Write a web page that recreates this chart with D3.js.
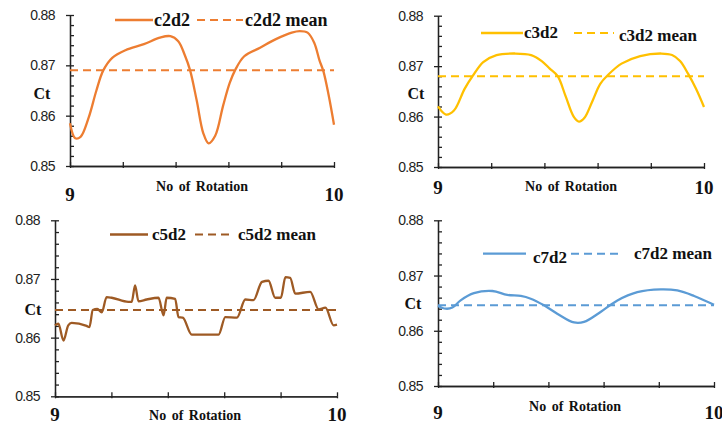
<!DOCTYPE html>
<html>
<head>
<meta charset="utf-8">
<script src="https://cdn.jsdelivr.net/npm/d3@7"></script>
<style>
  html, body { margin: 0; padding: 0; background: #fff; }
  svg { display: block; }
  .tick text { font-family: "Liberation Sans", Arial, sans-serif; font-size: 14px; fill: #222; letter-spacing: -0.6px; }
  .serif { font-family: "Liberation Serif", "Times New Roman", serif; font-weight: bold; fill: #111; }
</style>
</head>
<body>
<svg id="chart" width="722" height="425"></svg>
<script>
// ---- data ----
var yTicks = [0.85, 0.86, 0.87, 0.88];
var yMinor = [0.852, 0.854, 0.856, 0.858, 0.862, 0.864, 0.866, 0.868, 0.872, 0.874, 0.876, 0.878];
var xTicks = [9, 9.2, 9.4, 9.6, 9.8, 10];
var xLabels = [9, 10];

var c2d2Rot = [9, 9.02, 9.04, 9.07, 9.10, 9.126, 9.16, 9.21, 9.28, 9.34, 9.38, 9.41, 9.435, 9.455, 9.48, 9.505, 9.525, 9.55, 9.58, 9.605, 9.625, 9.66, 9.72, 9.78, 9.84, 9.87, 9.90, 9.925, 9.945, 9.96, 9.98, 10];
var c2d2Ct = [0.8585, 0.8555, 0.8558, 0.8595, 0.8650, 0.8690, 0.8715, 0.8730, 0.8742, 0.8755, 0.8758, 0.8748, 0.8720, 0.8690, 0.8630, 0.8565, 0.8545, 0.8560, 0.8620, 0.8665, 0.8690, 0.8718, 0.8735, 0.8752, 0.8765, 0.8768, 0.8765, 0.8745, 0.8710, 0.8688, 0.8640, 0.8582];
var c2d2Mean = 0.8690;

var c3d2Rot = [9, 9.03, 9.06, 9.10, 9.13, 9.17, 9.22, 9.29, 9.35, 9.39, 9.42, 9.45, 9.48, 9.51, 9.53, 9.55, 9.58, 9.61, 9.64, 9.69, 9.76, 9.84, 9.88, 9.91, 9.94, 9.97, 10];
var c3d2Ct = [0.8620, 0.8604, 0.8612, 0.8655, 0.8680, 0.8708, 0.8722, 0.8725, 0.8722, 0.8710, 0.8695, 0.8680, 0.8640, 0.8600, 0.8590, 0.8597, 0.8630, 0.8665, 0.8683, 0.8705, 0.8720, 0.8725, 0.8722, 0.8710, 0.8685, 0.8655, 0.8619];
var c3d2Mean = 0.8680;

var c5d2Rot = [9, 9.012, 9.030, 9.047, 9.059, 9.112, 9.122, 9.134, 9.150, 9.166, 9.183, 9.201, 9.260, 9.272, 9.284, 9.296, 9.325, 9.367, 9.385, 9.396, 9.426, 9.438, 9.453, 9.485, 9.580, 9.604, 9.645, 9.675, 9.704, 9.734, 9.757, 9.781, 9.801, 9.817, 9.834, 9.852, 9.905, 9.935, 9.959, 9.988, 10];
var c5d2Ct = [0.8621, 0.8624, 0.8595, 0.8621, 0.8625, 0.8620, 0.8618, 0.8647, 0.8649, 0.8643, 0.8669, 0.8668, 0.8661, 0.8661, 0.8689, 0.8662, 0.8665, 0.8668, 0.8638, 0.8668, 0.8666, 0.8635, 0.8634, 0.8605, 0.8605, 0.8635, 0.8634, 0.8665, 0.8664, 0.8695, 0.8697, 0.8668, 0.8668, 0.8703, 0.8702, 0.8675, 0.8678, 0.8648, 0.8651, 0.8621, 0.8622];
var c5d2Mean = 0.8647;

var c7d2Rot = [9, 9.028, 9.052, 9.082, 9.130, 9.197, 9.251, 9.300, 9.336, 9.384, 9.432, 9.493, 9.529, 9.589, 9.650, 9.722, 9.807, 9.867, 9.928, 10];
var c7d2Ct = [0.8645, 0.8640, 0.8642, 0.8655, 0.8668, 0.8672, 0.8665, 0.8663, 0.8658, 0.8646, 0.8631, 0.8615, 0.8616, 0.8634, 0.8655, 0.8670, 0.8675, 0.8673, 0.8663, 0.8647];
var c7d2Mean = 0.8646;

// ---- panel layout ----
var panels = [
  { name: 'c2d2', rot: c2d2Rot, ct: c2d2Ct, mean: c2d2Mean, color: '#ED7D31', curve: d3.curveCatmullRom,
    x0: 70, x1: 334, yTop: 15, yBot: 166, ctX: 42, ctY: 99, numY: 201, axTitle: { x: 202, y: 191 },
    leg: { l1: [115, 153], y: 20, t1: 154, l2: [197, 243], t2: 245, ty1: 26, ty2: 26, fs: 18 } },
  { name: 'c3d2', rot: c3d2Rot, ct: c3d2Ct, mean: c3d2Mean, color: '#FFC000', curve: d3.curveCatmullRom,
    x0: 438, x1: 704, yTop: 15.7, yBot: 167, ctX: 416, ctY: 99, numY: 194, axTitle: { x: 571, y: 191 },
    leg: { l1: [481, 523], y: 33, t1: 524, l2: [574, 614], t2: 619, ty1: 38, ty2: 41, fs: 17 } },
  { name: 'c5d2', rot: c5d2Rot, ct: c5d2Ct, mean: c5d2Mean, color: '#9E5A24', curve: d3.curveMonotoneX,
    x0: 55, x1: 337, yTop: 220.3, yBot: 396.3, ctX: 33, ctY: 315, numY: 421, axTitle: { x: 195, y: 420 },
    leg: { l1: [110, 148], y: 234.5, t1: 152, l2: [195, 233], t2: 238, ty1: 240, ty2: 240, fs: 17 } },
  { name: 'c7d2', rot: c7d2Rot, ct: c7d2Ct, mean: c7d2Mean, color: '#5B9BD5', curve: d3.curveCatmullRom,
    x0: 438, x1: 714, yTop: 220.3, yBot: 386, ctX: 413, ctY: 309, numY: 419, axTitle: { x: 575, y: 411 },
    leg: { l1: [483, 526], y: 253.7, t1: 533, l2: [571, 618], t2: 634, ty1: 263, ty2: 259, fs: 17 } }
];

var svg = d3.select('#chart');

panels.forEach(function (p) {
  var x = d3.scaleLinear().domain([9, 10]).range([p.x0, p.x1]);
  var y = d3.scaleLinear().domain([0.85, 0.88]).range([p.yBot, p.yTop]);
  var g = svg.append('g');

  // y axis: labels + outside major ticks
  var ya = g.append('g').attr('transform', 'translate(' + p.x0 + ',0)')
    .call(d3.axisLeft(y).tickValues(yTicks).tickSize(4).tickSizeOuter(0).tickPadding(11)
      .tickFormat(function (d) { return d3.format('.2f')(d); }));
  // inside ticks (major + minor)
  g.append('g').attr('transform', 'translate(' + p.x0 + ',0)')
    .call(d3.axisRight(y).tickValues(yTicks.concat(yMinor)).tickSize(4).tickSizeOuter(0).tickFormat(''));

  // x axis
  g.append('g').attr('transform', 'translate(0,' + p.yBot + ')')
    .call(d3.axisBottom(x).tickValues(xTicks).tickSize(2).tickSizeOuter(0).tickFormat(''));
  g.append('g').attr('transform', 'translate(0,' + p.yBot + ')')
    .call(d3.axisTop(x).tickValues(xTicks).tickSize(4).tickSizeOuter(0).tickFormat(''));

  g.selectAll('.domain, .tick line').attr('stroke', '#222').attr('stroke-width', 1.3);

  g.selectAll('.xnum').data(xLabels).enter().append('text')
    .attr('class', 'serif').attr('x', function (d) { return x(d); }).attr('y', p.numY)
    .attr('text-anchor', 'middle').style('font-size', '19px').text(function (d) { return d; });

  g.append('text').attr('class', 'serif').attr('x', p.axTitle.x).attr('y', p.axTitle.y)
    .attr('text-anchor', 'middle').style('font-size', '14px').style('word-spacing', '2px').text('No of Rotation');

  g.append('text').attr('class', 'serif').attr('x', p.ctX).attr('y', p.ctY)
    .attr('text-anchor', 'middle').style('font-size', '16px').text('Ct');

  // mean line
  g.append('line').attr('x1', x(9)).attr('x2', x(10)).attr('y1', y(p.mean)).attr('y2', y(p.mean))
    .attr('stroke', p.color).attr('stroke-width', 2).attr('stroke-dasharray', '8,5');

  // series
  var pts = p.rot.map(function (r, i) { return [r, p.ct[i]]; });
  var line = d3.line().x(function (d) { return x(d[0]); }).y(function (d) { return y(d[1]); }).curve(p.curve);
  g.append('path').datum(pts).attr('d', line).attr('fill', 'none')
    .attr('stroke', p.color).attr('stroke-width', 2.3).attr('stroke-linejoin', 'round');

  // legend
  var L = p.leg;
  g.append('line').attr('x1', L.l1[0]).attr('x2', L.l1[1]).attr('y1', L.y).attr('y2', L.y)
    .attr('stroke', p.color).attr('stroke-width', 2.3);
  g.append('text').attr('class', 'serif').attr('x', L.t1).attr('y', L.ty1)
    .style('font-size', L.fs + 'px').text(p.name);
  g.append('line').attr('x1', L.l2[0]).attr('x2', L.l2[1]).attr('y1', L.y).attr('y2', L.y)
    .attr('stroke', p.color).attr('stroke-width', 2).attr('stroke-dasharray', '8,5');
  g.append('text').attr('class', 'serif').attr('x', L.t2).attr('y', L.ty2)
    .style('font-size', L.fs + 'px').text(p.name + ' mean');
});
</script>
</body>
</html>
